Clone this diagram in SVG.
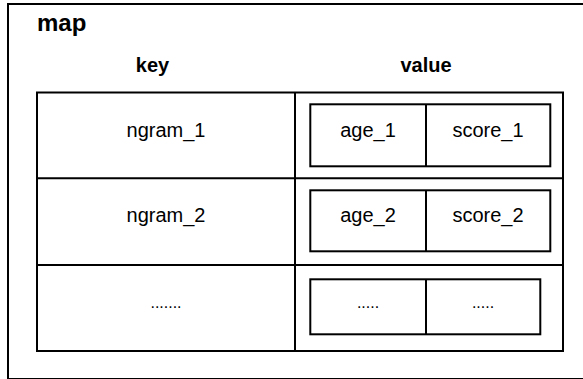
<svg xmlns="http://www.w3.org/2000/svg" width="583" height="379" viewBox="0 0 583 379">
  <style>
    .box { fill: #ffffff; stroke: #000000; stroke-width: 2; }
    .line { stroke: #000000; stroke-width: 2; fill: none; }
    text { font-family: "Liberation Sans", Arial, Helvetica, sans-serif; fill: #000000; text-anchor: middle; }
    .title { font-size: 24px; font-weight: bold; text-anchor: start; }
    .head { font-size: 20px; font-weight: bold; }
    .cell { font-size: 20px; }
    .dots { font-size: 16px; }
  </style>

  <!-- outer container -->
  <g id="map">
    <rect class="box" x="8" y="4" width="600" height="375"/>
    <text class="title" x="37" y="31">map</text>
  </g>

  <!-- column headers -->
  <g id="headers">
    <text class="head" x="152.5" y="72">key</text>
    <text class="head" x="426" y="72">value</text>
  </g>

  <!-- table frame and grid -->
  <g id="table">
    <rect class="box" x="37" y="92.5" width="526" height="258.5"/>
    <line class="line" x1="295" y1="92.5" x2="295" y2="351"/>
    <line class="line" x1="37" y1="178.3" x2="563" y2="178.3"/>
    <line class="line" x1="37" y1="265" x2="563" y2="265"/>
  </g>

  <!-- keys -->
  <g id="key1">
    <text class="cell" x="166" y="137">ngram_1</text>
  </g>
  <g id="key2">
    <text class="cell" x="166" y="222.3">ngram_2</text>
  </g>
  <g id="key3">
    <text class="dots" x="166" y="308.3">.......</text>
  </g>

  <!-- values -->
  <g id="value1">
    <rect class="box" x="310.3" y="104.3" width="240" height="62"/>
    <line class="line" x1="426" y1="104.3" x2="426" y2="166.3"/>
    <text class="cell" x="368" y="137">age_1</text>
    <text class="cell" x="488" y="137">score_1</text>
  </g>
  <g id="value2">
    <rect class="box" x="310.3" y="190.3" width="240" height="61"/>
    <line class="line" x1="426" y1="190.3" x2="426" y2="251.3"/>
    <text class="cell" x="368" y="222.3">age_2</text>
    <text class="cell" x="488" y="222.3">score_2</text>
  </g>
  <g id="value3">
    <rect class="box" x="310.3" y="279.3" width="230" height="55"/>
    <line class="line" x1="426" y1="279.3" x2="426" y2="334.3"/>
    <text class="dots" x="368" y="308">.....</text>
    <text class="dots" x="483" y="308">.....</text>
  </g>
</svg>
